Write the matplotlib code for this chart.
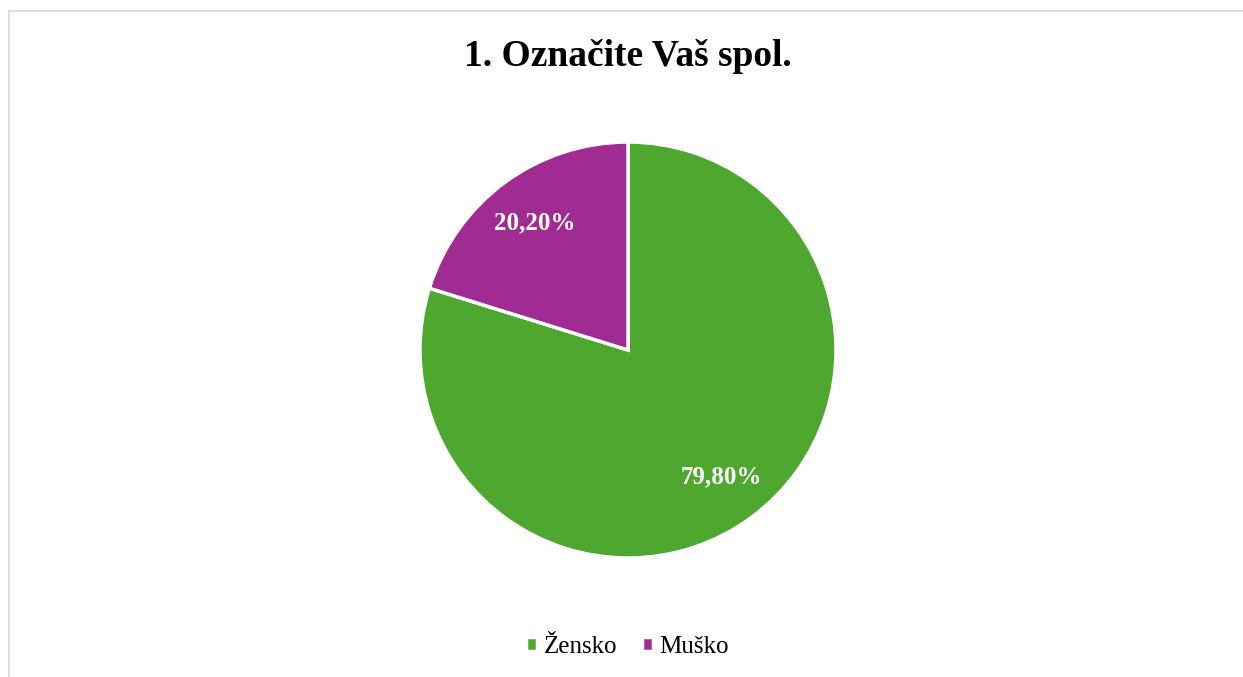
import matplotlib.pyplot as plt
from matplotlib.lines import Line2D

plt.rcParams['font.family'] = ['Liberation Serif', 'DejaVu Serif']

labels = ['Žensko', 'Muško']
values = [79.80, 20.20]
colors = ['#4EA72E', '#A02B93']
title = '1. Označite Vaš spol.'

W, H = 1243, 677
fig = plt.figure(figsize=(W / 100, H / 100), dpi=100)

# light border (top and left only, as in the reference)
fig.add_artist(Line2D([8.5 / W, 8.5 / W], [0, 1 - 10.5 / H], transform=fig.transFigure,
                      color='#D9D9D9', lw=1.2))
fig.add_artist(Line2D([8.5 / W, 1], [1 - 10.5 / H, 1 - 10.5 / H], transform=fig.transFigure,
                      color='#D9D9D9', lw=1.2))

r = 208
cx, cy = 628, 350
ax = fig.add_axes([(cx - r) / W, (H - cy - r) / H, 2 * r / W, 2 * r / H])

wedges, texts, autotexts = ax.pie(
    values, colors=colors, startangle=90, counterclock=False,
    autopct=lambda p: ('%.2f%%' % p).replace('.', ','), pctdistance=0.76,
    wedgeprops=dict(edgecolor='white', linewidth=2.5),
    textprops=dict(color='white', fontsize=18, fontweight='bold'))
ax.set_xlim(-1, 1)
ax.set_ylim(-1, 1)
ax.set_aspect('equal')

fig.text(0.505, 1 - 57 / H, title, ha='center', va='center',
         fontsize=27, fontweight='bold')

fig.legend(wedges, labels, loc='center', bbox_to_anchor=(0.505, 1 - 647 / H),
           ncol=2, frameon=False, fontsize=18, handlelength=0.45, handleheight=0.45,
           handletextpad=0.25, columnspacing=1.0)

fig.savefig('out.png', dpi=100)
